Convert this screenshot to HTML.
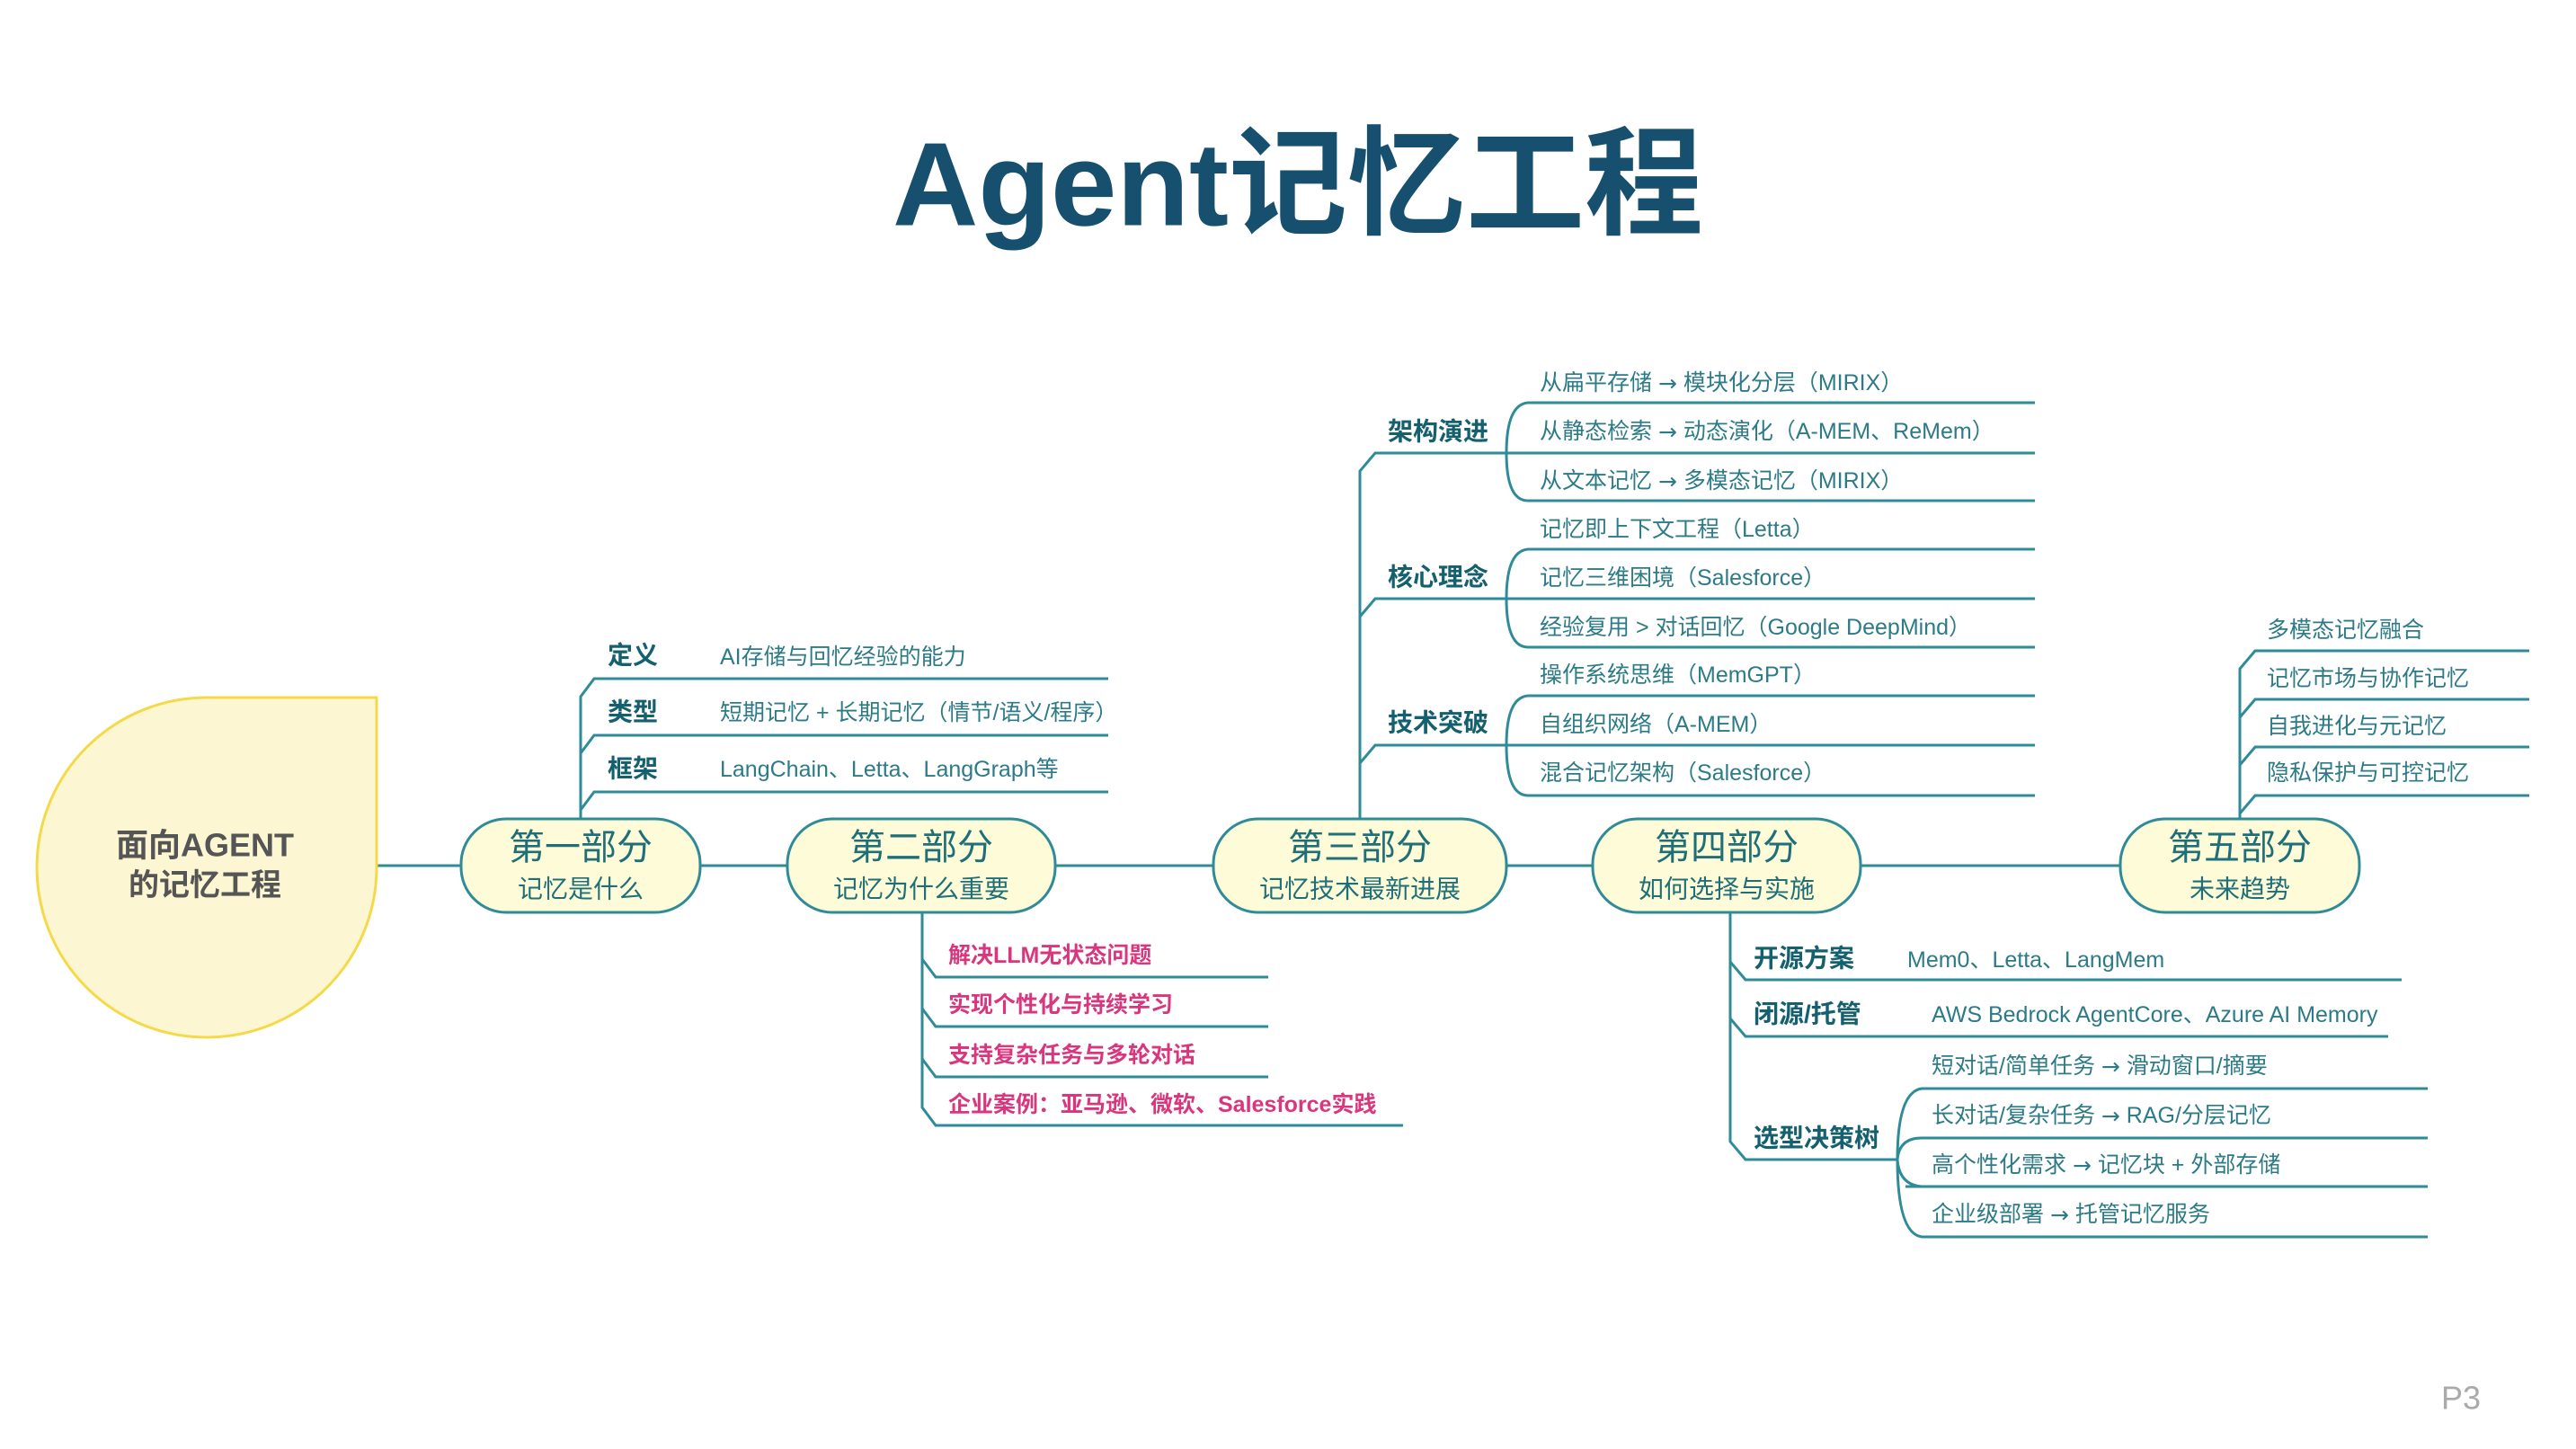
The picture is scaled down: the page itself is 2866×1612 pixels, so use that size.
<!DOCTYPE html>
<html><head><meta charset="utf-8"><style>
html,body{margin:0;padding:0;background:#fff;}
svg{display:block;}
text{font-family:"Liberation Sans","Noto Sans CJK SC",sans-serif;}
.ar{font-family:"DejaVu Sans",sans-serif;}
</style></head><body>
<svg width="2866" height="1612" viewBox="0 0 2866 1612" xmlns="http://www.w3.org/2000/svg">
<rect width="2866" height="1612" fill="#fff"/>
<text x="1444" y="205" text-anchor="middle" dominant-baseline="central" font-size="132" font-weight="bold" fill="#174f6f">Agent记忆工程</text>

<g fill="none" stroke="#2e8b97" stroke-width="3">
<line x1="419" y1="963" x2="2359" y2="963"/>
<path d="M646,911 L646,775 L661,755 L1233,755"/>
<path d="M646,838 L661,818 L1233,818"/>
<path d="M646,901 L661,881 L1233,881"/>
<path d="M1026,1015 L1026,1232 L1041,1252 L1561,1252"/>
<path d="M1026,1067 L1041,1087 L1411,1087"/>
<path d="M1026,1122 L1041,1142 L1411,1142"/>
<path d="M1026,1178 L1041,1198 L1411,1198"/>
<path d="M1513,911 L1513,524 L1530,504 L1676,504"/>
<path d="M1513,686 L1530,666 L1676,666"/>
<path d="M1513,849 L1530,829 L1676,829"/>
<path d="M2264,448 L1700,448 Q1676,450 1676,504 Q1676,557 1700,557 L2264,557"/>
<line x1="1676" y1="504" x2="2264" y2="504"/>
<path d="M2264,611 L1700,611 Q1676,613 1676,666 Q1676,720 1700,720 L2264,720"/>
<line x1="1676" y1="666" x2="2264" y2="666"/>
<path d="M2264,774 L1700,774 Q1676,776 1676,829 Q1676,885 1700,885 L2264,885"/>
<line x1="1676" y1="829" x2="2264" y2="829"/>
<path d="M1925,1015 L1925,1270 L1942,1290 L2111,1290"/>
<path d="M1925,1070 L1942,1090 L2672,1090"/>
<path d="M1925,1133 L1942,1153 L2657,1153"/>
<path d="M2701,1211 L2138,1211 Q2111,1215 2111,1290 Q2111,1372 2138,1376 L2701,1376"/>
<path d="M2111,1290 Q2113,1266 2138,1266 L2701,1266"/>
<line x1="2120" y1="1320" x2="2701" y2="1320"/>
<path d="M2111,1290 Q2113,1318 2138,1320"/>
<path d="M2492,911 L2492,744 L2509,724 L2814,724"/>
<path d="M2492,798 L2509,778 L2814,778"/>
<path d="M2492,851 L2509,831 L2814,831"/>
<path d="M2492,905 L2509,885 L2814,885"/>
</g>

<path d="M419,776 L419,963 A189,189 0 1 1 230,776 Z" fill="#fdf6d3" stroke="#f5d949" stroke-width="3"/>
<text x="228" y="940" text-anchor="middle" dominant-baseline="central" font-size="36" font-weight="bold" fill="#555">面向AGENT</text>
<text x="228" y="985" text-anchor="middle" dominant-baseline="central" font-size="34" font-weight="bold" fill="#555">的记忆工程</text>

<g fill="#fdfbd8" stroke="#2e8b97" stroke-width="3">
<rect x="513" y="911" width="266" height="104" rx="50"/>
<rect x="876" y="911" width="298" height="104" rx="50"/>
<rect x="1350" y="911" width="326" height="104" rx="50"/>
<rect x="1772" y="911" width="298" height="104" rx="50"/>
<rect x="2359" y="911" width="266" height="104" rx="50"/>
</g>
<g text-anchor="middle" dominant-baseline="central" fill="#1f6f78">
<text x="646" y="943" font-size="40">第一部分</text><text x="646" y="989" font-size="28">记忆是什么</text>
<text x="1025" y="943" font-size="40">第二部分</text><text x="1025" y="989" font-size="28">记忆为什么重要</text>
<text x="1513" y="943" font-size="40">第三部分</text><text x="1513" y="989" font-size="28">记忆技术最新进展</text>
<text x="1921" y="943" font-size="40">第四部分</text><text x="1921" y="989" font-size="28">如何选择与实施</text>
<text x="2492" y="943" font-size="40">第五部分</text><text x="2492" y="989" font-size="28">未来趋势</text>
</g>

<g dominant-baseline="central" font-size="28" font-weight="bold" fill="#15606e">
<text x="676" y="729">定义</text><text x="676" y="792">类型</text><text x="676" y="855">框架</text>
<text x="1544" y="480">架构演进</text><text x="1544" y="642">核心理念</text><text x="1544" y="804">技术突破</text>
<text x="1951" y="1066">开源方案</text><text x="1951" y="1128">闭源/托管</text><text x="1951" y="1266">选型决策树</text>
</g>
<g dominant-baseline="central" font-size="25" fill="#2c7b86">
<text x="801" y="731">AI存储与回忆经验的能力</text>
<text x="801" y="793">短期记忆 + 长期记忆（情节/语义/程序）</text>
<text x="801" y="856">LangChain、Letta、LangGraph等</text>
<text x="1713" y="426">从扁平存储 <tspan class="ar">→</tspan> 模块化分层（MIRIX）</text>
<text x="1713" y="480">从静态检索 <tspan class="ar">→</tspan> 动态演化（A-MEM、ReMem）</text>
<text x="1713" y="535">从文本记忆 <tspan class="ar">→</tspan> 多模态记忆（MIRIX）</text>
<text x="1713" y="589">记忆即上下文工程（Letta）</text>
<text x="1713" y="643">记忆三维困境（Salesforce）</text>
<text x="1713" y="698">经验复用 &gt; 对话回忆（Google DeepMind）</text>
<text x="1713" y="751">操作系统思维（MemGPT）</text>
<text x="1713" y="806">自组织网络（A-MEM）</text>
<text x="1713" y="860">混合记忆架构（Salesforce）</text>
<text x="2122" y="1068">Mem0、Letta、LangMem</text>
<text x="2149" y="1129">AWS Bedrock AgentCore、Azure AI Memory</text>
<text x="2149" y="1186">短对话/简单任务 <tspan class="ar">→</tspan> 滑动窗口/摘要</text>
<text x="2149" y="1241">长对话/复杂任务 <tspan class="ar">→</tspan> RAG/分层记忆</text>
<text x="2149" y="1296">高个性化需求 <tspan class="ar">→</tspan> 记忆块 + 外部存储</text>
<text x="2149" y="1351">企业级部署 <tspan class="ar">→</tspan> 托管记忆服务</text>
<text x="2522" y="701">多模态记忆融合</text>
<text x="2522" y="755">记忆市场与协作记忆</text>
<text x="2522" y="808">自我进化与元记忆</text>
<text x="2522" y="860">隐私保护与可控记忆</text>
</g>
<g dominant-baseline="central" font-size="25" font-weight="bold" fill="#d9367e">
<text x="1055" y="1063">解决LLM无状态问题</text>
<text x="1055" y="1118">实现个性化与持续学习</text>
<text x="1055" y="1174">支持复杂任务与多轮对话</text>
<text x="1055" y="1229">企业案例：亚马逊、微软、Salesforce实践</text>
</g>
<text x="2716" y="1555" dominant-baseline="central" font-size="36" fill="#aaa">P3</text>
</svg>
</body></html>
